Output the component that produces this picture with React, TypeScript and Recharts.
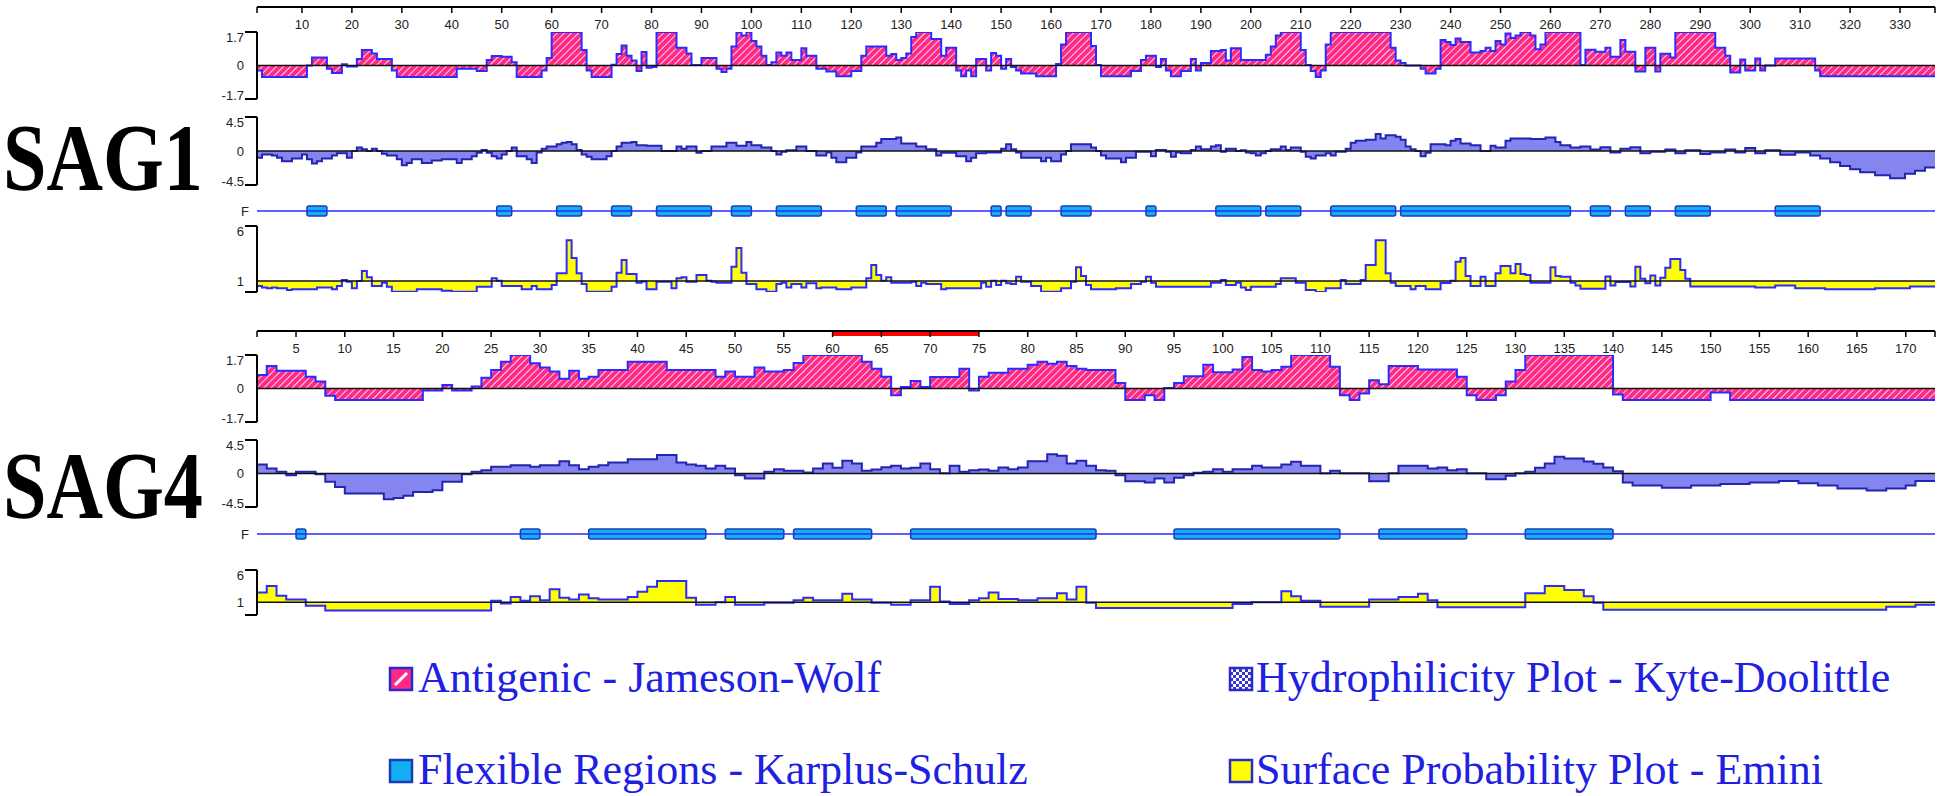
import React from "react";
import { ComposedChart, Area, Line, XAxis, YAxis, ReferenceLine, ReferenceArea } from "recharts";

// Antigenicity / hydrophilicity / flexibility / surface probability profiles for SAG1 and SAG4.
// Each profile is a run-length list of [first residue, value]; a value holds until the next entry.

type Pt = [number, number];

const SAG1_LEN = 336;
const SAG4_LEN = 172;

const SAG1_RULER = [10, 20, 30, 40, 50, 60, 70, 80, 90, 100, 110, 120, 130, 140, 150, 160, 170, 180, 190, 200, 210, 220, 230, 240, 250, 260, 270, 280, 290, 300, 310, 320, 330];
const SAG4_RULER = [5, 10, 15, 20, 25, 30, 35, 40, 45, 50, 55, 60, 65, 70, 75, 80, 85, 90, 95, 100, 105, 110, 115, 120, 125, 130, 135, 140, 145, 150, 155, 160, 165, 170];
const SAG4_EPITOPE: Pt = [60, 75];

const SAG1_ANTIGENIC: Pt[] = [
  [1, -0.25], [2, -0.58], [11, 0], [12, 0.41], [15, -0.17], [16, -0.38], [18, 0.06], [19, -0.05], [21, 0.33], [22, 0.79],
  [24, 0.61], [25, 0.33], [28, -0.25], [29, -0.58], [41, -0.17], [45, -0.28], [47, 0.28], [48, 0.48], [50, 0.45], [52, 0.17],
  [53, -0.58], [58, -0.25], [59, 0.38], [60, 1.7], [66, 0.79], [67, -0.25], [68, -0.58], [72, 0.04], [73, 0.58], [74, 1.02],
  [75, 0.5], [76, 0.25], [77, -0.28], [78, 0.69], [79, -0.12], [80, -0.08], [81, 1.7], [85, 0.9], [87, 0.61], [88, 0.02],
  [90, 0.38], [93, -0.17], [94, -0.33], [95, -0.17], [96, 0.96], [97, 1.7], [98, 1.52], [99, 1.7], [100, 1.24], [101, 0.96],
  [102, 0.5], [103, 0.02], [104, 0.17], [105, 0.66], [106, 0.5], [107, 0.66], [108, 0.28], [110, 0.87], [111, 0.5], [113, -0.17],
  [115, -0.3], [117, -0.54], [120, -0.28], [122, 0.5], [123, 0.96], [127, 0.5], [128, 0.58], [129, 0.28], [130, 0.38], [131, 0.61],
  [132, 1.44], [133, 1.7], [136, 1.35], [138, 0.5], [139, 0.9], [141, -0.25], [142, -0.54], [143, -0.25], [144, -0.54], [145, 0.33],
  [147, -0.25], [148, 0.63], [149, 0.5], [150, -0.17], [151, 0.33], [152, -0.08], [153, -0.25], [154, -0.41], [157, -0.54], [161, 0.08],
  [162, 1.07], [163, 1.7], [168, 0.99], [169, 0.02], [170, -0.54], [176, -0.28], [178, 0.28], [179, 0.5], [181, -0.08], [182, 0.33],
  [183, -0.25], [184, -0.54], [186, -0.28], [188, 0.33], [189, -0.25], [190, 0.13], [192, 0.74], [194, 0.79], [195, 0.25], [196, 0.87],
  [198, 0.28], [203, 0.54], [204, 0.96], [205, 1.52], [206, 1.7], [210, 0.79], [211, 0.02], [212, -0.28], [213, -0.58], [214, -0.25],
  [215, 1.07], [216, 1.7], [228, 0.9], [229, 0.25], [230, 0.13], [231, 0], [234, -0.17], [235, -0.41], [237, -0.17], [238, 1.29],
  [239, 1.19], [240, 1.04], [241, 1.37], [242, 1.19], [244, 0.66], [246, 0.74], [247, 0.9], [248, 0.74], [249, 1.24], [250, 1.07],
  [251, 1.62], [252, 1.4], [253, 1.52], [254, 1.7], [256, 1.52], [257, 0.83], [258, 1.07], [259, 1.7], [266, 0.02], [267, 0.8],
  [269, 0.7], [271, 0.9], [272, 0.45], [274, 1.3], [275, 0.7], [277, -0.3], [279, 0.9], [281, -0.3], [282, 0.6], [284, 0.4],
  [285, 1.7], [293, 0.9], [295, 0.5], [296, -0.35], [298, 0.3], [299, -0.25], [301, 0.35], [302, -0.25], [303, 0], [305, 0.35],
  [313, -0.25], [314, -0.54],
];

const SAG1_HYDRO: Pt[] = [
  [1, -0.9], [2, -0.45], [4, -0.6], [5, -0.9], [6, -1.35], [8, -1.0], [10, -0.45], [11, -1.1], [12, -1.67], [13, -1.35],
  [14, -1.0], [16, -0.6], [17, -0.3], [19, -0.9], [20, 0], [21, 0.45], [22, 0.22], [23, 0], [24, 0.3], [25, 0],
  [26, -0.36], [27, -0.6], [29, -1.1], [30, -1.9], [31, -1.6], [32, -1.1], [34, -1.6], [36, -1.25], [38, -1.1], [41, -1.6],
  [42, -1.1], [44, -0.7], [45, -0.22], [46, 0.13], [47, -0.22], [48, -0.7], [49, -1.0], [50, -0.45], [51, 0], [52, 0.45],
  [53, -0.7], [55, -1.1], [56, -1.6], [57, -0.2], [58, 0.3], [59, 0.6], [61, 0.9], [62, 1.1], [63, 1.2], [64, 0.9],
  [65, 0.13], [66, -0.45], [67, -0.77], [68, -1.1], [71, -0.7], [72, 0], [73, 0.6], [74, 1.1], [76, 1.2], [77, 0.77],
  [79, 0.68], [82, 0], [85, 0.6], [86, 0.3], [87, 0.6], [89, -0.22], [90, 0], [92, 0.6], [95, 1.1], [97, 0.68],
  [99, 1.2], [100, 0.77], [102, 0.45], [104, 0], [105, -0.45], [106, -0.1], [107, 0.1], [109, 0.6], [111, 0], [113, -0.6],
  [115, -0.2], [116, -0.9], [117, -1.5], [119, -0.9], [121, -0.2], [122, 0.6], [125, 1.1], [126, 1.6], [129, 1.8], [130, 1.0],
  [133, 0.6], [135, 0.22], [137, -0.6], [138, -0.22], [141, -0.7], [143, -1.35], [144, -0.9], [145, -0.3], [147, -0.2], [150, 0.3],
  [151, 0.9], [152, 0.22], [153, -0.2], [154, -0.9], [158, -1.35], [159, -0.9], [160, -1.35], [162, -0.45], [163, 0], [164, 0.9],
  [168, 0.45], [169, 0], [170, -0.6], [171, -1.0], [174, -1.5], [175, -0.9], [177, -0.1], [180, -0.7], [181, 0.13], [183, -0.1],
  [184, -0.77], [185, -0.2], [186, -0.3], [188, 0.13], [189, 0.6], [190, 0.22], [192, 0.6], [193, 0.77], [194, -0.1], [195, 0.3],
  [197, 0], [198, 0.1], [199, -0.2], [200, -0.3], [201, -0.6], [202, -0.3], [203, 0], [204, 0.22], [206, 0.6], [207, 0.13],
  [208, 0.45], [210, -0.1], [211, -0.77], [212, -1.0], [213, -0.6], [215, -0.3], [216, -0.6], [217, -0.1], [219, 0.3], [220, 1.1],
  [221, 1.35], [223, 1.5], [225, 2.25], [226, 1.67], [227, 2.1], [229, 1.9], [230, 1.5], [231, 0.6], [232, 0.22], [233, 0],
  [234, -0.7], [235, -0.22], [236, 0.9], [239, 0.77], [240, 1.35], [241, 1.58], [242, 1.0], [244, 0.77], [246, 0], [248, 0.68],
  [249, 0.45], [251, 1.35], [252, 1.67], [256, 1.58], [259, 1.8], [261, 1.2], [262, 0.77], [264, 0.45], [266, 0.6], [268, 0.2],
  [270, 0.5], [272, -0.2], [274, 0.3], [276, 0.5], [278, -0.3], [280, -0.1], [283, 0.2], [285, -0.3], [287, 0.1], [290, -0.4],
  [292, -0.2], [295, 0.2], [297, -0.2], [299, 0.4], [301, -0.3], [303, 0.1], [306, -0.5], [309, -0.2], [312, -0.6], [314, -1.0],
  [316, -1.5], [318, -2.0], [320, -2.4], [322, -2.8], [325, -3.2], [328, -3.6], [331, -3.0], [333, -2.6], [335, -2.2],
];

const SAG1_FLEX: Pt[] = [
  [11, 15], [49, 52], [61, 66], [72, 76], [81, 92], [96, 100], [105, 114], [121, 127], [129, 140], [148, 150], [151, 156],
  [162, 168], [179, 181], [193, 202], [203, 210], [216, 229], [230, 264], [268, 272], [275, 280], [285, 292], [305, 314],
];

const SAG1_SURFACE: Pt[] = [
  [1, 0.55], [2, 0.42], [3, 0.33], [4, 0.42], [5, 0.33], [7, 0.18], [8, 0.24], [13, 0.42], [16, 0.24], [17, 0.55],
  [18, 1.1], [19, 0.94], [20, 0.33], [21, 1.0], [22, 1.9], [23, 1.33], [24, 0.55], [26, 0.85], [27, 0.48], [28, 0.03],
  [33, 0.24], [38, 0.12], [40, 0.03], [45, 0.48], [48, 1.24], [49, 1.03], [50, 0.55], [54, 0.24], [56, 0.55], [57, 0.24],
  [60, 0.64], [61, 1.7], [63, 4.7], [64, 3.1], [65, 1.7], [66, 0.73], [67, 0.03], [72, 0.48], [73, 1.76], [74, 2.9],
  [75, 1.64], [77, 0.85], [78, 0.95], [79, 0.24], [81, 0.94], [84, 0.33], [85, 1.24], [86, 1.33], [87, 0.94], [89, 1.55],
  [91, 1.03], [92, 0.94], [93, 0.85], [96, 2.3], [97, 4.0], [98, 1.76], [99, 0.73], [101, 0.24], [103, 0.03], [105, 0.73],
  [106, 0.85], [107, 0.42], [108, 0.73], [110, 0.42], [111, 0.79], [113, 0.33], [114, 0.42], [117, 0.24], [120, 0.42], [123, 1.24],
  [124, 2.45], [125, 1.55], [126, 1.03], [127, 1.33], [128, 0.85], [132, 0.94], [133, 0.55], [134, 0.85], [135, 0.73], [138, 0.24],
  [139, 0.33], [146, 0.85], [147, 0.48], [148, 1.03], [149, 0.64], [150, 1.03], [151, 0.79], [152, 0.73], [153, 1.39], [154, 0.94],
  [156, 0.55], [158, 0.03], [162, 0.33], [164, 0.94], [165, 2.24], [166, 1.45], [167, 0.64], [168, 0.24], [173, 0.33], [176, 0.73],
  [178, 0.94], [179, 1.39], [180, 0.85], [181, 0.48], [192, 0.85], [194, 1.1], [195, 0.64], [197, 0.85], [198, 0.42], [199, 0.18],
  [200, 0.48], [205, 0.73], [206, 1.24], [209, 0.85], [211, 0.18], [213, 0.0], [215, 0.33], [218, 1.1], [219, 0.73], [222, 1.1],
  [223, 2.45], [225, 4.7], [227, 1.7], [228, 0.85], [229, 0.55], [232, 0.24], [233, 0.55], [235, 0.24], [238, 0.82], [240, 1.03],
  [241, 2.75], [242, 3.1], [243, 1.45], [244, 0.55], [246, 1.39], [247, 0.55], [249, 1.7], [250, 2.36], [252, 1.7], [253, 2.55],
  [254, 1.64], [255, 1.55], [256, 0.85], [260, 2.24], [261, 1.45], [262, 1.39], [264, 0.85], [265, 0.6], [266, 0.3], [271, 1.4],
  [272, 0.6], [273, 0.9], [276, 0.5], [277, 2.3], [278, 1.2], [279, 0.8], [280, 1.5], [281, 0.6], [282, 1.3], [283, 2.2],
  [284, 3.0], [286, 2.0], [287, 1.2], [288, 0.5], [301, 0.4], [305, 0.6], [309, 0.35], [315, 0.25], [325, 0.35], [332, 0.5],
];

const SAG4_ANTIGENIC: Pt[] = [
  [1, 0.69], [2, 1.14], [3, 0.9], [6, 0.6], [7, 0.35], [8, -0.37], [9, -0.58], [18, -0.1], [20, 0.18], [21, -0.1],
  [23, 0.1], [24, 0.55], [25, 0.94], [26, 1.36], [27, 1.7], [29, 1.28], [30, 1.07], [31, 0.86], [32, 0.5], [33, 0.9],
  [34, 0.5], [35, 0.6], [36, 0.94], [39, 1.36], [43, 0.94], [48, 0.6], [49, 0.86], [50, 0.6], [52, 1.07], [53, 0.86],
  [55, 0.94], [56, 1.3], [57, 1.7], [63, 1.36], [64, 1.0], [65, 0.6], [66, -0.34], [67, 0.08], [68, 0.38], [69, 0.08],
  [70, 0.58], [73, 1.0], [74, -0.1], [75, 0.6], [76, 0.8], [78, 1.0], [80, 1.2], [81, 1.36], [82, 1.25], [83, 1.36],
  [84, 1.14], [85, 1.0], [86, 0.94], [89, 0.28], [90, -0.58], [92, -0.34], [93, -0.58], [94, 0.02], [95, 0.28], [96, 0.62],
  [98, 1.2], [99, 0.83], [101, 0.97], [102, 1.6], [103, 0.94], [104, 0.86], [105, 0.94], [106, 1.1], [107, 1.7], [111, 1.1],
  [112, -0.34], [113, -0.58], [114, -0.25], [115, 0.42], [116, 0.22], [117, 1.14], [120, 0.97], [124, 0.6], [125, -0.34], [126, -0.58],
  [128, -0.34], [129, 0.35], [130, 0.94], [131, 1.7], [140, -0.3], [141, -0.58], [150, -0.2], [152, -0.58],
];

const SAG4_HYDRO: Pt[] = [
  [1, 1.2], [2, 0.67], [3, 0.22], [4, -0.22], [5, 0.22], [7, -0.1], [8, -1.1], [9, -1.8], [10, -2.7], [14, -3.45],
  [15, -3.3], [16, -3.0], [17, -2.47], [19, -2.24], [20, -1.1], [22, -0.1], [23, 0.22], [24, 0.45], [25, 0.9], [27, 1.12],
  [29, 0.9], [30, 1.12], [32, 1.66], [33, 1.12], [34, 0.58], [35, 0.9], [36, 1.12], [37, 1.48], [39, 1.93], [42, 2.47],
  [44, 1.48], [45, 1.2], [46, 1.03], [47, 0.67], [48, 1.03], [49, 0.67], [50, -0.22], [51, -0.67], [53, 0.22], [54, 0.58],
  [55, 0.36], [57, 0.13], [58, 0.67], [59, 1.35], [60, 0.76], [61, 1.7], [62, 1.35], [63, 0.36], [64, 0.54], [65, 0.85],
  [66, 1.03], [67, 0.67], [68, 0.76], [69, 1.35], [70, 0.58], [71, 0.02], [72, 1.03], [73, 0.22], [74, 0.45], [75, 0.54],
  [76, 0.36], [77, 0.8], [78, 0.58], [79, 0.8], [80, 1.66], [82, 2.6], [83, 2.38], [84, 1.35], [85, 1.7], [86, 1.03],
  [87, 0.45], [88, 0.36], [89, -0.22], [90, -1.03], [92, -1.2], [93, -0.67], [94, -1.2], [95, -0.58], [96, -0.22], [97, 0.1],
  [98, 0.22], [99, 0.58], [100, 0.22], [101, 0.58], [103, 1.03], [104, 0.8], [106, 1.2], [107, 1.57], [108, 1.03], [110, 0.02],
  [111, 0.36], [112, 0.02], [115, -1.03], [117, 0.02], [118, 1.03], [121, 0.67], [122, 0.8], [123, 0.45], [124, 0.58], [125, 0.02],
  [127, -0.76], [129, -0.3], [130, 0.02], [131, 0.22], [132, 0.76], [133, 1.35], [134, 2.24], [135, 2.0], [137, 1.6], [138, 1.3],
  [139, 0.8], [140, 0.3], [141, -1.2], [142, -1.6], [145, -1.9], [148, -1.6], [151, -1.4], [154, -1.2], [157, -1.0], [159, -1.3],
  [161, -1.6], [163, -2.0], [166, -2.3], [168, -2.0], [170, -1.6], [171, -1.0],
];

const SAG4_FLEX: Pt[] = [
  [5, 6], [28, 30], [35, 47], [49, 55], [56, 64], [68, 87], [95, 112], [116, 125], [131, 140],
];

const SAG4_SURFACE: Pt[] = [
  [1, 2.5], [2, 3.5], [3, 2.0], [4, 1.4], [6, 0.45], [8, -0.3], [25, 1.2], [26, 0.8], [27, 1.8], [28, 1.2],
  [29, 1.9], [30, 1.3], [31, 3.0], [32, 1.7], [33, 1.4], [34, 2.2], [35, 1.6], [36, 1.4], [39, 1.8], [40, 2.6],
  [41, 3.4], [42, 4.3], [45, 1.7], [46, 0.6], [48, 1.0], [49, 1.8], [50, 0.6], [53, 0.9], [56, 1.3], [57, 1.7],
  [58, 1.3], [61, 2.3], [62, 1.4], [64, 0.9], [66, 0.6], [68, 1.3], [70, 3.4], [71, 1.1], [72, 0.7], [74, 1.3],
  [75, 1.6], [76, 2.5], [77, 1.5], [79, 1.3], [81, 1.6], [83, 2.4], [84, 1.4], [85, 3.4], [86, 0.9], [87, 0.1],
  [101, 0.7], [103, 1.0], [106, 2.7], [107, 1.9], [108, 1.2], [110, 0.3], [115, 1.4], [118, 1.8], [120, 2.3], [121, 1.3],
  [122, 0.2], [131, 2.4], [133, 3.5], [135, 2.9], [137, 1.9], [138, 0.9], [139, -0.2], [168, 0.3], [171, 0.6],
];

const W = 1940;
const H = 796;
const PLOT_LEFT = 257;
const RIGHT_GAP = 5;
const NUM_FONT = "'Liberation Sans', Arial, sans-serif";
const SERIF = "'Liberation Serif', 'Times New Roman', serif";

const PINK = "#ff2a85";
const LINE_BLUE = "#2b2bff";
const HYDRO_FILL = "#8585ef";
const HYDRO_LINE = "#2424b0";
const FLEX_FILL = "#12b0f2";
const FLEX_EDGE = "#1b3db5";
const YELLOW = "#ffff00";

function steps(pts: Pt[], len: number) {
  const rows = pts.map(([x, v]) => ({ x, v }));
  rows.push({ x: len + 1, v: pts[pts.length - 1][1] });
  return rows;
}

function bracketTick(min: number, max: number, labels: Record<string, string>, marks: number[]) {
  return (p: any) => {
    const v = p.payload.value;
    const label = labels[String(v)];
    const dy = v === max ? 5 : v === min ? -4 : 0;
    return (
      <g>
        {marks.includes(v) && <line x1={p.x - 12} x2={p.x} y1={p.y} y2={p.y} stroke="#000" strokeWidth={2} />}
        {label && (
          <text x={p.x - 13} y={p.y + dy} dy="0.35em" textAnchor="end" fontSize={13} fill="#222" fontFamily={NUM_FONT}>
            {label}
          </text>
        )}
      </g>
    );
  };
}

function Ruler({ axisY, len, ticks, epitope }: { axisY: number; len: number; ticks: number[]; epitope?: Pt }) {
  const all = [1, ...ticks, len + 1];
  return (
    <div style={{ position: "absolute", left: 0, top: axisY - 6 }}>
      <ComposedChart width={W} height={40} data={[{ x: 1, y: 0 }, { x: len + 1, y: 0 }]} margin={{ top: 4, right: RIGHT_GAP, bottom: 0, left: PLOT_LEFT }}>
        <XAxis
          type="number"
          dataKey="x"
          domain={[1, len + 1]}
          allowDataOverflow
          ticks={all}
          interval={0}
          tickFormatter={(v: number) => (v === 1 || v === len + 1 ? "" : String(v))}
          tickSize={6}
          tickMargin={7}
          height={34}
          axisLine={{ stroke: "#000", strokeWidth: 2 }}
          tickLine={{ stroke: "#000", strokeWidth: 1.5 }}
          tick={{ fontSize: 13, fill: "#222", fontFamily: NUM_FONT }}
        />
        <YAxis hide domain={[0, 1]} allowDataOverflow />
        <Line dataKey="y" stroke="none" dot={false} isAnimationActive={false} />
        {epitope && (
          <ReferenceArea x1={epitope[0]} x2={epitope[1]} y1={-2.5} y2={0} fill="#ff0000" fillOpacity={1} stroke="none" ifOverflow="visible" />
        )}
      </ComposedChart>
    </div>
  );
}

function StepTrack(props: {
  plotTop: number;
  plotBottom: number;
  len: number;
  pts: Pt[];
  domain: [number, number];
  base: number;
  fill: string;
  stroke: string;
  ticks: number[];
  labels: Record<string, string>;
  marks: number[];
  defs?: React.ReactNode;
}) {
  const pad = 8;
  const { plotTop, plotBottom, len, domain } = props;
  return (
    <div style={{ position: "absolute", left: 0, top: plotTop - pad }}>
      <ComposedChart width={W} height={plotBottom - plotTop + pad * 2} data={steps(props.pts, len)} margin={{ top: pad, right: RIGHT_GAP, bottom: pad, left: 0 }}>
        {props.defs}
        <XAxis type="number" dataKey="x" domain={[1, len + 1]} allowDataOverflow hide />
        <YAxis
          width={PLOT_LEFT}
          domain={domain}
          allowDataOverflow
          ticks={props.ticks}
          interval={0}
          tickSize={0}
          tickMargin={0}
          tickLine={false}
          axisLine={{ stroke: "#000", strokeWidth: 2 }}
          tick={bracketTick(domain[0], domain[1], props.labels, props.marks)}
        />
        <Area
          type="stepAfter"
          dataKey="v"
          baseValue={props.base}
          fill={props.fill}
          fillOpacity={1}
          stroke={props.stroke}
          strokeWidth={2}
          dot={false}
          activeDot={false}
          isAnimationActive={false}
        />
        <ReferenceLine y={props.base} stroke="#111" strokeWidth={1.5} />
      </ComposedChart>
    </div>
  );
}

function FlexTrack({ lineY, len, boxes }: { lineY: number; len: number; boxes: Pt[] }) {
  const pad = 10;
  return (
    <div style={{ position: "absolute", left: 0, top: lineY - 5 - pad }}>
      <ComposedChart width={W} height={10 + pad * 2} data={[{ x: 1, y: 0 }, { x: len + 1, y: 0 }]} margin={{ top: pad, right: RIGHT_GAP, bottom: pad, left: 0 }}>
        <XAxis type="number" dataKey="x" domain={[1, len + 1]} allowDataOverflow hide />
        <YAxis
          width={PLOT_LEFT}
          domain={[-1, 1]}
          allowDataOverflow
          ticks={[0]}
          tickSize={0}
          tickMargin={0}
          tickLine={false}
          axisLine={false}
          tick={(p: any) => (
            <text x={p.x - 8} y={p.y} dy="0.35em" textAnchor="end" fontSize={13} fill="#222" fontFamily={NUM_FONT}>
              F
            </text>
          )}
        />
        <Line dataKey="y" stroke={LINE_BLUE} strokeWidth={1.5} dot={false} activeDot={false} isAnimationActive={false} />
        {boxes.map(([a, b]) => (
          <ReferenceArea key={a} x1={a} x2={b} y1={-1} y2={1} fill={FLEX_FILL} fillOpacity={1} stroke={FLEX_EDGE} strokeWidth={1.5} radius={2} ifOverflow="visible" />
        ))}
      </ComposedChart>
    </div>
  );
}

function hatch(id: string) {
  return (
    <defs>
      <pattern id={id} patternUnits="userSpaceOnUse" width={5} height={5} patternTransform="rotate(45)">
        <rect width={5} height={5} fill={PINK} />
        <line x1={0} y1={0} x2={0} y2={5} stroke="#fff" strokeWidth={1.6} />
      </pattern>
    </defs>
  );
}

function Panel(props: {
  tag: string;
  len: number;
  rulerY: number;
  ruler: number[];
  epitope?: Pt;
  antigenic: Pt[];
  hydro: Pt[];
  flex: Pt[];
  surface: Pt[];
  ag: [number, number];
  hy: [number, number];
  flexY: number;
  sp: [number, number];
  spMin: number;
}) {
  return (
    <>
      <Ruler axisY={props.rulerY} len={props.len} ticks={props.ruler} epitope={props.epitope} />
      <StepTrack
        plotTop={props.ag[0]}
        plotBottom={props.ag[1]}
        len={props.len}
        pts={props.antigenic}
        domain={[-1.7, 1.7]}
        base={0}
        fill={`url(#hatch-${props.tag})`}
        stroke={LINE_BLUE}
        ticks={[-1.7, 0, 1.7]}
        labels={{ "-1.7": "-1.7", "0": "0", "1.7": "1.7" }}
        marks={[-1.7, 1.7]}
        defs={hatch(`hatch-${props.tag}`)}
      />
      <StepTrack
        plotTop={props.hy[0]}
        plotBottom={props.hy[1]}
        len={props.len}
        pts={props.hydro}
        domain={[-4.5, 4.5]}
        base={0}
        fill={HYDRO_FILL}
        stroke={HYDRO_LINE}
        ticks={[-4.5, 0, 4.5]}
        labels={{ "-4.5": "-4.5", "0": "0", "4.5": "4.5" }}
        marks={[-4.5, 4.5]}
      />
      <FlexTrack lineY={props.flexY} len={props.len} boxes={props.flex} />
      <StepTrack
        plotTop={props.sp[0]}
        plotBottom={props.sp[1]}
        len={props.len}
        pts={props.surface}
        domain={[props.spMin, 6]}
        base={1}
        fill={YELLOW}
        stroke={LINE_BLUE}
        ticks={[props.spMin, 1, 6]}
        labels={{ "1": "1", "6": "6" }}
        marks={[props.spMin, 6]}
      />
    </>
  );
}

function LegendIcon({ x, y, kind }: { x: number; y: number; kind: string }) {
  const s = 22;
  const fill = kind === "ag" ? PINK : kind === "hy" ? "url(#legend-check)" : kind === "flex" ? FLEX_FILL : YELLOW;
  return (
    <g>
      <rect x={x} y={y} width={s} height={s} fill={fill} stroke={kind === "flex" ? FLEX_EDGE : "#2a2acc"} strokeWidth={2.5} />
      {kind === "ag" && <line x1={x + 5} y1={y + s - 5} x2={x + s - 5} y2={y + 5} stroke="#fff" strokeWidth={3} />}
    </g>
  );
}

export default function App() {
  const legend = [
    { kind: "ag", text: "Antigenic - Jameson-Wolf", x: 390, tx: 418, y: 668 },
    { kind: "hy", text: "Hydrophilicity Plot - Kyte-Doolittle", x: 1230, tx: 1256, y: 668 },
    { kind: "flex", text: "Flexible Regions - Karplus-Schulz", x: 390, tx: 418, y: 760 },
    { kind: "sp", text: "Surface Probability Plot - Emini", x: 1230, tx: 1256, y: 760 },
  ];
  return (
    <div style={{ position: "relative", width: W, height: H, background: "#fff", overflow: "hidden" }}>
      <style>{"body{margin:0}"}</style>
      <Panel
        tag="sag1"
        len={SAG1_LEN}
        rulerY={7}
        ruler={SAG1_RULER}
        antigenic={SAG1_ANTIGENIC}
        hydro={SAG1_HYDRO}
        flex={SAG1_FLEX}
        surface={SAG1_SURFACE}
        ag={[32, 99]}
        hy={[117, 185]}
        flexY={211}
        sp={[226, 292]}
        spMin={0}
      />
      <Panel
        tag="sag4"
        len={SAG4_LEN}
        rulerY={331}
        ruler={SAG4_RULER}
        epitope={SAG4_EPITOPE}
        antigenic={SAG4_ANTIGENIC}
        hydro={SAG4_HYDRO}
        flex={SAG4_FLEX}
        surface={SAG4_SURFACE}
        ag={[355, 422]}
        hy={[440, 507]}
        flexY={534}
        sp={[570, 615]}
        spMin={-1}
      />
      <svg width={W} height={H} style={{ position: "absolute", left: 0, top: 0, pointerEvents: "none" }}>
        <defs>
          <pattern id="legend-check" patternUnits="userSpaceOnUse" width={6} height={6}>
            <rect width={6} height={6} fill="#fff" />
            <rect width={3} height={3} fill="#3535d0" />
            <rect x={3} y={3} width={3} height={3} fill="#3535d0" />
          </pattern>
        </defs>
        <text transform="translate(3,190) scale(1,1.2)" fontFamily={SERIF} fontSize={79} fontWeight="bold" fill="#000" textLength={200} lengthAdjust="spacingAndGlyphs">
          SAG1
        </text>
        <text transform="translate(3,518) scale(1,1.2)" fontFamily={SERIF} fontSize={79} fontWeight="bold" fill="#000" textLength={200} lengthAdjust="spacingAndGlyphs">
          SAG4
        </text>
        {legend.map((l) => (
          <g key={l.text}>
            <LegendIcon x={l.x} y={l.y} kind={l.kind} />
            <text x={l.tx} y={l.y + 24} fontFamily={SERIF} fontSize={44} fill="#2020e0">
              {l.text}
            </text>
          </g>
        ))}
      </svg>
    </div>
  );
}
